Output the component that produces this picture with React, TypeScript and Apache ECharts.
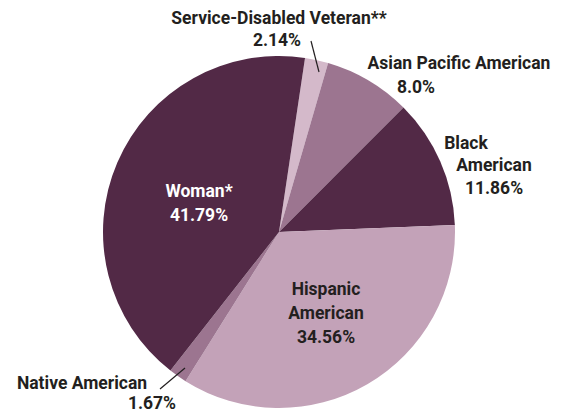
import React, { useEffect, useRef } from "react";
import * as echarts from "echarts";

const categories = [
  "Service-Disabled Veteran**",
  "Asian Pacific American",
  "Black American",
  "Hispanic American",
  "Native American",
  "Woman*",
];
const shares = [2.14, 8.0, 11.86, 34.56, 1.67, 41.79];
const shareLabels = ["2.14%", "8.0%", "11.86%", "34.56%", "1.67%", "41.79%"];

const sliceColors = ["#d4b9ca", "#9c7590", "#522946", "#c3a2b8", "#9c7590", "#522946"];

// label layout (positions only)
const labelPos: { name: number[][]; value: number[]; leader?: number[][]; color?: string }[] = [
  { name: [[279, 18]], value: [277, 40], leader: [[311, 41], [319, 72]] },
  { name: [[459, 63]], value: [416, 87] },
  { name: [[466, 143], [494, 165]], value: [494, 188] },
  { name: [[326, 289], [326, 313]], value: [326, 337] },
  { name: [[82, 383]], value: [152, 403], leader: [[160, 389], [185, 368]] },
  { name: [[199, 191]], value: [199, 215], color: "#ffffff" },
];

const FONT = "bold 17.5px Roboto, 'Liberation Sans', sans-serif";

export default function App() {
  const ref = useRef<HTMLDivElement>(null);
  useEffect(() => {
    if (!ref.current) return;
    const chart = echarts.init(ref.current, null, { renderer: "svg" });
    const graphics: any[] = [];
    categories.forEach((cat, i) => {
      const p = labelPos[i];
      const fill = p.color || "#231f20";
      const parts =
        p.name.length > 1
          ? [cat.slice(0, cat.indexOf(" ")), cat.slice(cat.indexOf(" ") + 1)]
          : [cat];
      parts.forEach((t, k) => {
        graphics.push({
          type: "text",
          silent: true,
          z: 10,
          style: {
            text: t,
            x: p.name[k][0],
            y: p.name[k][1],
            align: "center",
            verticalAlign: "middle",
            font: FONT,
            fill,
          },
        });
      });
      graphics.push({
        type: "text",
        silent: true,
        z: 10,
        style: {
          text: shareLabels[i],
          x: p.value[0],
          y: p.value[1],
          align: "center",
          verticalAlign: "middle",
          font: FONT,
          fill,
        },
      });
      if (p.leader) {
        graphics.push({
          type: "line",
          silent: true,
          z: 10,
          shape: { x1: p.leader[0][0], y1: p.leader[0][1], x2: p.leader[1][0], y2: p.leader[1][1] },
          style: { stroke: "#231f20", lineWidth: 1.2 },
        });
      }
    });
    chart.setOption({
      animation: false,
      backgroundColor: "#ffffff",
      graphic: graphics,
      series: [
        {
          type: "pie",
          center: [279, 232],
          radius: [0, 176],
          startAngle: 81.5,
          clockwise: true,
          silent: true,
          label: { show: false },
          labelLine: { show: false },
          itemStyle: { borderWidth: 0 },
          data: categories.map((c, i) => ({
            name: c,
            value: shares[i],
            itemStyle: { color: sliceColors[i] },
          })),
        },
      ],
    });
    return () => chart.dispose();
  }, []);
  return (
    <div
      ref={ref}
      style={{ position: "absolute", left: 0, top: 0, width: 566, height: 414 }}
    />
  );
}
